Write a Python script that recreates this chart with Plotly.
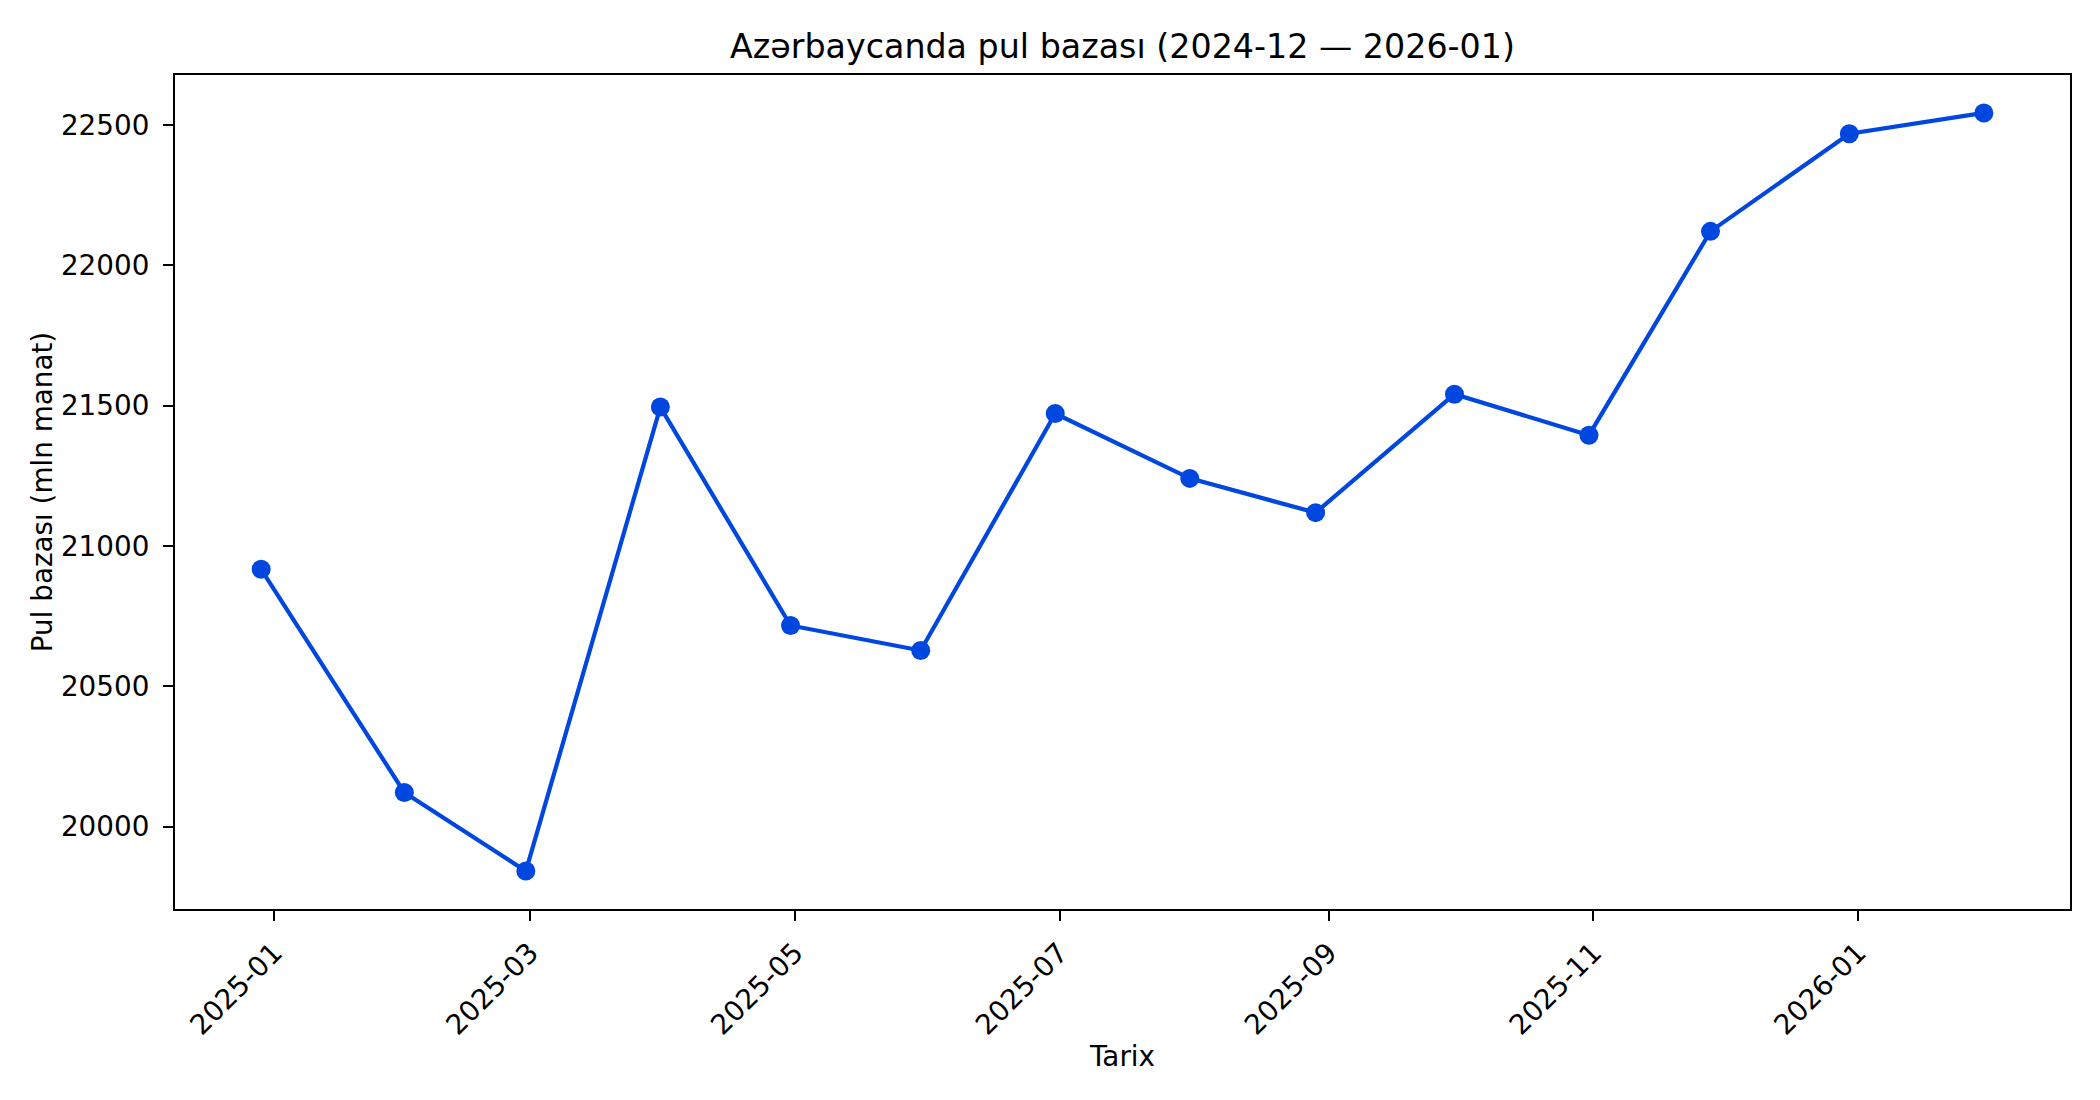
import pandas as pd
import plotly.graph_objects as go

dates = ["2024-12-29", "2025-01-31", "2025-02-28", "2025-03-31", "2025-04-30",
         "2025-05-30", "2025-06-30", "2025-07-31", "2025-08-29", "2025-09-30",
         "2025-10-31", "2025-11-28", "2025-12-30", "2026-01-30"]
values = [20917, 20122, 19842, 21495, 20717, 20628, 21472, 21241, 21119,
          21541, 21395, 22121, 22469, 22543]
y_ticks = [20000, 20500, 21000, 21500, 22000, 22500]

title_text = "Azərbaycanda pul bazası (2024-12 — 2026-01)"
x_title = "Tarix"
y_title = "Pul bazası (mln manat)"

color = "#0047E0"
font_family = "DejaVu Sans"

d = pd.to_datetime(dates)
span = d.max() - d.min()
x_range = [d.min() - span * 0.05, d.max() + span * 0.05]
vspan = max(values) - min(values)
y_range = [min(values) - vspan * 0.05, max(values) + vspan * 0.05]

fig = go.Figure()
fig.add_trace(go.Scatter(
    x=d, y=values, mode="lines+markers",
    line=dict(color=color, width=4.2),
    marker=dict(color=color, size=19),
    showlegend=False,
))

W, H = 2100, 1100
L, R, T, B = 175, 30, 75, 191

fig.update_layout(
    width=W, height=H,
    margin=dict(l=L, r=R, t=T, b=B, autoexpand=False),
    paper_bgcolor="white", plot_bgcolor="white",
    font=dict(family=font_family, size=27.8, color="black"),
    title=dict(text=title_text, x=0.5, xref="paper", xanchor="center",
               y=1 - 46 / H, yref="container", yanchor="middle",
               font=dict(size=33.3, family=font_family, color="black")),
    xaxis=dict(
        type="date", range=x_range,
        tick0="2025-01-01", dtick="M2", tickformat="%Y-%m",
        tickangle=-45,
        showline=True, linecolor="black", linewidth=2.2, mirror=True,
        ticks="outside", ticklen=10, tickwidth=2.2, tickcolor="black",
        ticklabelstandoff=4,
        showgrid=False, zeroline=False,
        title=dict(text=x_title, standoff=6, font=dict(size=27.8)),
        automargin=False,
    ),
    yaxis=dict(
        range=y_range, tickvals=y_ticks,
        ticktext=[str(v) for v in y_ticks],
        showline=True, linecolor="black", linewidth=2.2, mirror=True,
        ticks="outside", ticklen=10, tickwidth=2.2, tickcolor="black",
        ticklabelstandoff=8,
        showgrid=False, zeroline=False,
        title=dict(text=y_title, standoff=0, font=dict(size=27.8)),
        automargin=False,
    ),
)

fig.write_html("out.html",
               config={"displayModeBar": False},
               post_script="document.body.style.margin='0';document.body.style.padding='0';")
